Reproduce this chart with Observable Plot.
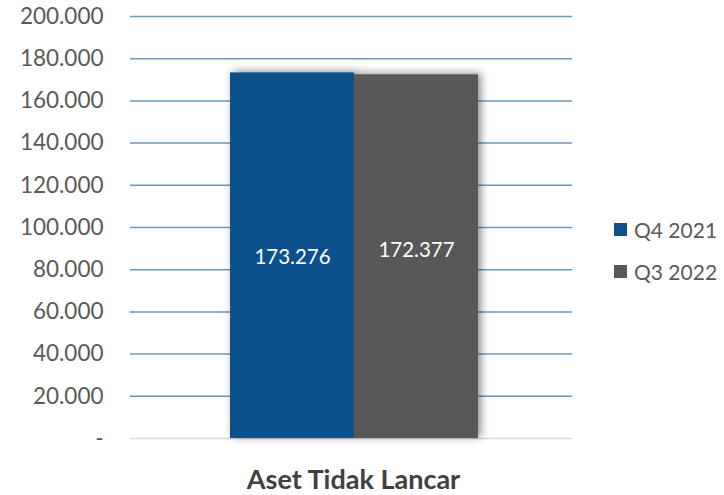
<!DOCTYPE html>
<html>
<head>
<meta charset="utf-8">
<script src="https://cdn.jsdelivr.net/npm/d3@7"></script>
<script src="https://cdn.jsdelivr.net/npm/@observablehq/plot@0.6"></script>
<style>
  html, body { margin: 0; padding: 0; background: #fff; }
  #wrap { position: relative; width: 724px; height: 495px; font-family: Lato, "Open Sans", sans-serif; }
  .legend { position: absolute; left: 614px; font-size: 21px; color: #595959; display: flex; align-items: center; }
  .legend span.sw { display: inline-block; width: 13px; height: 13px; margin-right: 7px; }
</style>
</head>
<body>
<div id="wrap"></div>
<script>
const category = "Aset Tidak Lancar";
const series = ["Q4 2021", "Q3 2022"];
const values = [173276, 172377];
const colors = ["#0E518B", "#595959"];
const yTicks = [0, 20000, 40000, 60000, 80000, 100000, 120000, 140000, 160000, 180000, 200000];

const data = series.map((s, i) => ({series: s, value: values[i], category}));
const loc = d3.formatLocale({decimal: ",", thousands: ".", grouping: [3], currency: ["", ""]});
const fmt = loc.format(",d");
const tickFmt = v => v === 0 ? "-" : fmt(v);

const chart = Plot.plot({
  width: 724,
  height: 495,
  marginLeft: 130,
  marginRight: 152,
  marginTop: 16,
  marginBottom: 57,
  style: {fontFamily: "Lato, 'Open Sans', sans-serif", background: "#fff"},
  x: {domain: series, paddingInner: 0, paddingOuter: 0.775, align: 0.515, axis: null},
  y: {domain: [0, 200000]},
  color: {domain: series, range: colors},
  marks: [
    Plot.gridY(yTicks.filter(t => t > 0), {stroke: "#6E97BB", strokeOpacity: 1, strokeWidth: 1.5}),
    Plot.ruleY([0], {stroke: "#D9D9D9", strokeWidth: 1.5}),
    Plot.barY(data, {x: "series", y: "value", fill: "series", insetLeft: 0, insetRight: 0, className: "bars"}),
    Plot.axisY(yTicks, {tickSize: 0, tickPadding: 27, tickFormat: tickFmt, fontSize: 22.5, fill: "#595959", label: null}),
    Plot.text(data.filter(d => d.series === series[0]), {x: "series", y: d => d.value / 2, text: d => fmt(d.value), fill: "white", fontSize: 20.5, dy: 2}),
    Plot.text(data.filter(d => d.series === series[1]), {x: "series", y: d => d.value / 2, text: d => fmt(d.value), fill: "white", fontSize: 20.5, dy: -6}),
    Plot.text([category], {frameAnchor: "bottom", dy: 50, dx: 2, text: d => d, fontSize: 27, fontWeight: "bold", fill: "#404040"})
  ]
});

// drop shadow for bars
const svg = d3.select(chart);
const defs = svg.insert("defs", ":first-child");
const f = defs.append("filter").attr("id", "shadow").attr("x", "-20%").attr("y", "-20%").attr("width", "140%").attr("height", "140%");
f.append("feDropShadow").attr("dx", 3).attr("dy", -1).attr("stdDeviation", 4).attr("flood-color", "#000").attr("flood-opacity", 0.45);
svg.selectAll("g.bars").attr("filter", "url(#shadow)");

const wrap = document.getElementById("wrap");
wrap.appendChild(chart);

const legendY = [229, 271];
series.forEach((s, i) => {
  const div = document.createElement("div");
  div.className = "legend";
  div.style.top = (legendY[i] - 14) + "px";
  div.style.height = "28px";
  div.innerHTML = `<span class="sw" style="background:${colors[i]}"></span>${s}`;
  wrap.appendChild(div);
});
</script>
</body>
</html>
